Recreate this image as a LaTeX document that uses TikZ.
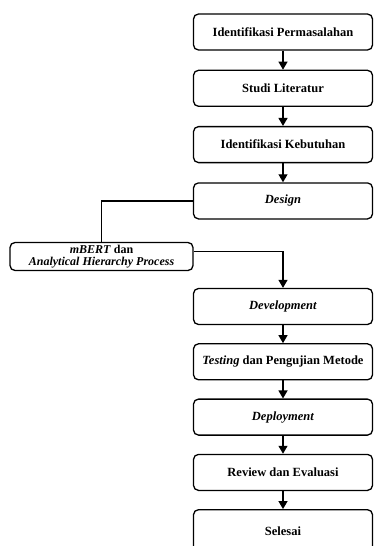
\documentclass[tikz,border=0pt]{standalone}
\usepackage{fontspec}
\setmainfont{Liberation Serif}
\usetikzlibrary{positioning,arrows.meta}
\tikzset{
    flowbox/.style={draw, line width=1.3pt, rounded corners=5pt, minimum width=179pt,
        minimum height=36pt, align=center, inner sep=2pt,
        font=\bfseries\fontsize{12.5}{13}\selectfont},
    flowarrow/.style={-{Triangle[width=9pt,length=8pt]}, line width=1.3pt},
}
\begin{document}
\begin{tikzpicture}[x=1pt,y=-1pt]
    \useasboundingbox (0,0) rectangle (374,546);
    % alur atas
    \node[flowbox] (identifikasi) at (283,32) {Identifikasi Permasalahan};
    \node[flowbox, below=19pt of identifikasi] (studi) {Studi Literatur};
    \node[flowbox, below=19pt of studi] (kebutuhan) {Identifikasi Kebutuhan};
    \node[flowbox, below=19pt of kebutuhan] (design) {\textit{Design}};
    % metode
    \node[flowbox, minimum width=183pt, minimum height=28pt, inner sep=0.5pt,
        font=\bfseries\fontsize{12}{12}\selectfont] (metode) at (101.5,256.5)
        {\textit{mBERT} dan\\ \textit{Analytical Hierarchy Process}};
    % alur bawah
    \node[flowbox] (development) at (283,306.5) {\textit{Development}};
    \node[flowbox, below=18pt of development] (testing) {\textit{Testing} dan Pengujian Metode};
    \node[flowbox, below=18pt of testing] (deployment) {\textit{Deployment}};
    \node[flowbox, below=18pt of deployment] (review) {Review dan Evaluasi};
    \node[flowbox, minimum height=44pt, below=18pt of review] (selesai) {Selesai};
    \foreach \a/\b in {identifikasi/studi, studi/kebutuhan, kebutuhan/design,
        development/testing, testing/deployment, deployment/review, review/selesai}
        \draw[flowarrow] (\a) -- (\b);
    \draw[line width=1.3pt] (design.west) -| (metode.north);
    \draw[flowarrow] ([yshift=5pt]metode.east) -| (development.north);
\end{tikzpicture}
\end{document}
